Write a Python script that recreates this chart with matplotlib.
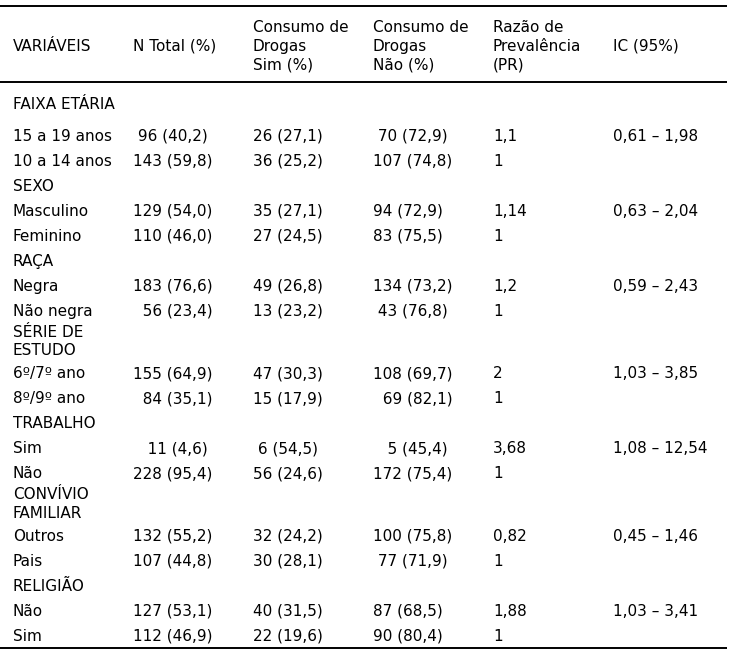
import matplotlib
matplotlib.use("Agg")
import matplotlib.pyplot as plt

# table content
headers = ["VARIÁVEIS", "N Total (%)", "Consumo de\nDrogas\nSim (%)",
           "Consumo de\nDrogas\nNão (%)", "Razão de\nPrevalência\n(PR)", "IC (95%)"]

labels = ["FAIXA ETÁRIA", "15 a 19 anos", "10 a 14 anos", "SEXO", "Masculino", "Feminino",
          "RAÇA", "Negra", "Não negra", "SÉRIE DE\nESTUDO", "6º/7º ano", "8º/9º ano",
          "TRABALHO", "Sim", "Não", "CONVÍVIO\nFAMILIAR", "Outros", "Pais",
          "RELIGIÃO", "Não", "Sim"]

n_total = ["", " 96 (40,2)", "143 (59,8)", "", "129 (54,0)", "110 (46,0)",
           "", "183 (76,6)", "  56 (23,4)", "", "155 (64,9)", "  84 (35,1)",
           "", "   11 (4,6)", "228 (95,4)", "", "132 (55,2)", "107 (44,8)",
           "", "127 (53,1)", "112 (46,9)"]

drogas_sim = ["", "26 (27,1)", "36 (25,2)", "", "35 (27,1)", "27 (24,5)",
              "", "49 (26,8)", "13 (23,2)", "", "47 (30,3)", "15 (17,9)",
              "", " 6 (54,5)", "56 (24,6)", "", "32 (24,2)", "30 (28,1)",
              "", "40 (31,5)", "22 (19,6)"]

drogas_nao = ["", " 70 (72,9)", "107 (74,8)", "", "94 (72,9)", "83 (75,5)",
              "", "134 (73,2)", " 43 (76,8)", "", "108 (69,7)", "  69 (82,1)",
              "", "   5 (45,4)", "172 (75,4)", "", "100 (75,8)", " 77 (71,9)",
              "", "87 (68,5)", "90 (80,4)"]

razao_pr = ["", "1,1", "1", "", "1,14", "1", "", "1,2", "1", "", "2", "1",
            "", "3,68", "1", "", "0,82", "1", "", "1,88", "1"]

ic_95 = ["", "0,61 – 1,98", "", "", "0,63 – 2,04", "", "", "0,59 – 2,43", "",
         "", "1,03 – 3,85", "", "", "1,08 – 12,54", "", "", "0,45 – 1,46", "",
         "", "1,03 – 3,41", ""]

columns = [labels, n_total, drogas_sim, drogas_nao, razao_pr, ic_95]

# layout in pixels
W, H = 731, 654
col_x = [13 + 120 * i for i in range(6)]
fs = 11
cap_half = 5.6
line_gap = 18.5

fig = plt.figure(figsize=(W / 100, H / 100), dpi=100)
ax = fig.add_axes([0, 0, 1, 1])
ax.set_xlim(0, W)
ax.set_ylim(H, 0)
ax.axis("off")


def put(x, yc, s):
    lines = s.split("\n")
    y0 = yc - line_gap * (len(lines) - 1) / 2
    for k, ln in enumerate(lines):
        ax.text(x, y0 + k * line_gap + cap_half, ln, fontsize=fs, color="black",
                ha="left", va="baseline", family="DejaVu Sans")


# header
for x, h in zip(col_x, headers):
    put(x, 45, h)

# body rows
cursor = 90.5
for i in range(len(labels)):
    nlines = labels[i].count("\n") + 1
    if i == 0:
        height = 32
    elif nlines == 2:
        height = 37.5
    else:
        height = 25
    if nlines == 2:
        put(col_x[0], cursor + 8.5 + line_gap / 2, labels[i])
    else:
        yc = cursor + 12.5
        for x, col in zip(col_x, columns):
            if col[i]:
                put(x, yc, col[i])
    cursor += height

ax.hlines([6, 82, 648], 0, 727, color="black", linewidth=1.4)

fig.savefig("out.png", dpi=100)
